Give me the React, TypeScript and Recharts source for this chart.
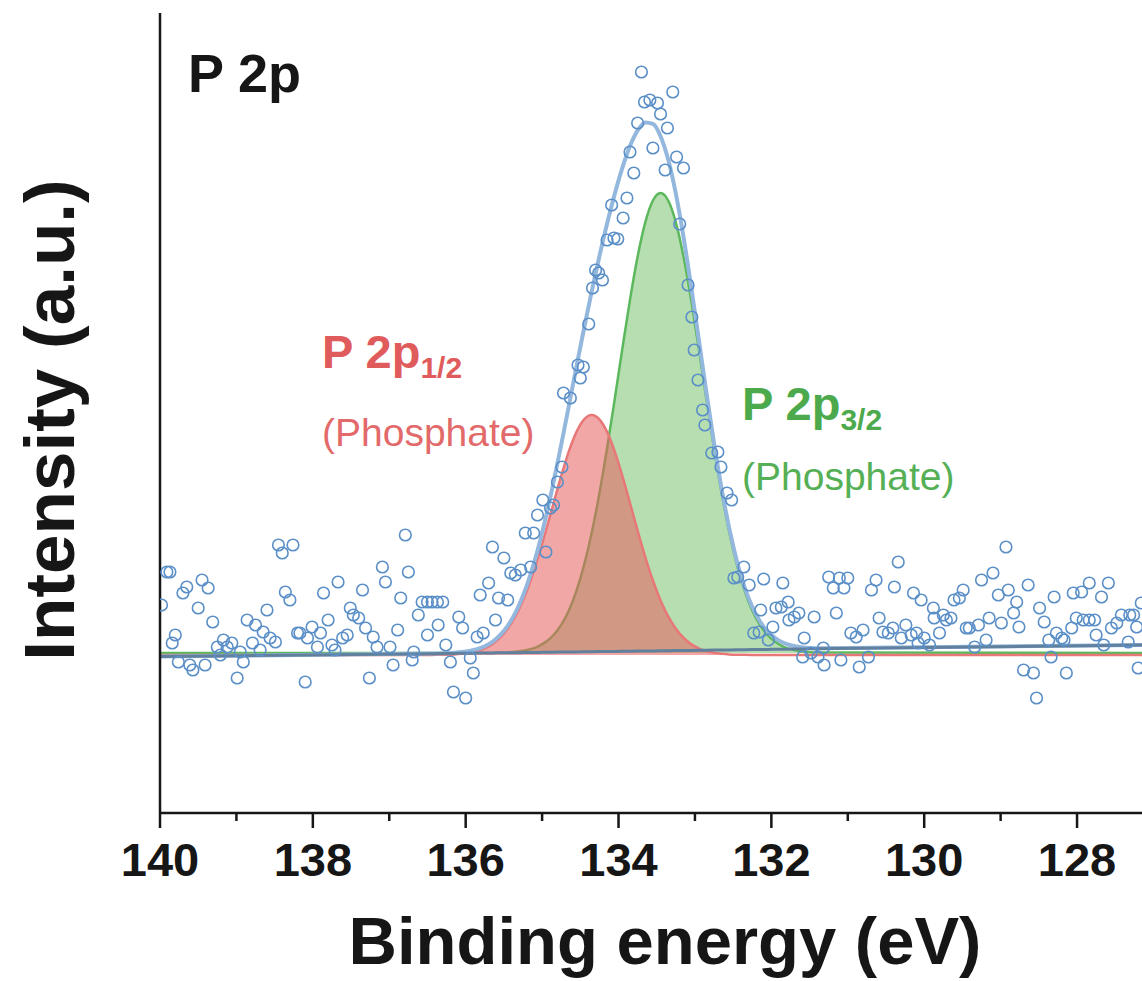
import React from 'react';
import { ComposedChart, Area, Line, Scatter, XAxis, YAxis } from 'recharts';

// peak fit at 0.1 eV steps (intensity in arbitrary units)
const fitEnergy = [
  140.5, 136.45, 136.35, 136.25, 136.15, 136.05, 135.95, 135.85, 135.75, 135.65, 135.55,
  135.45, 135.35, 135.25, 135.15, 135.05, 134.95, 134.85, 134.75, 134.65, 134.55,
  134.45, 134.35, 134.25, 134.15, 134.05, 133.95, 133.85, 133.75, 133.65, 133.55,
  133.45, 133.35, 133.25, 133.15, 133.05, 132.95, 132.85, 132.75, 132.65, 132.55,
  132.45, 132.35, 132.25, 132.15, 132.05, 131.95, 131.85, 131.75, 131.65, 131.55,
  131.45, 127.0,
];
const fitBackground = [
  156, 159.3, 159.4, 159.5, 159.6, 159.7, 159.8, 159.9, 160.0, 160.1, 160.2,
  160.3, 160.3, 160.4, 160.5, 160.6, 160.7, 160.8, 160.9, 161.0, 161.1,
  161.2, 161.3, 161.4, 161.5, 161.6, 161.7, 161.8, 161.9, 162.0, 162.1,
  162.2, 162.3, 162.4, 162.5, 162.6, 162.7, 162.8, 162.9, 163.0, 163.1,
  163.2, 163.3, 163.4, 163.5, 163.6, 163.7, 163.8, 163.9, 164.0, 164.1,
  164.2, 168,
];
const fitRed = [
  158, 158.1, 158.2, 158.3, 158.6, 159.2, 160.2, 161.9, 164.7, 168.9, 175.3,
  184.3, 196.6, 212.6, 232.5, 256.0, 282.3, 310.0, 337.1, 361.6, 381.1,
  393.7, 398.0, 393.7, 381.1, 361.6, 337.1, 310.0, 282.3, 256.0, 232.5,
  212.6, 196.6, 184.3, 175.3, 168.9, 164.7, 161.9, 160.2, 159.2, 158.6,
  158.3, 158.2, 158.1, 158, 158, 158, 158, 158, 158, 158,
  158, 158,
];
const fitGreen = [
  160, 160, 160, 160, 160, 160, 160, 160, 160.1, 160.1, 160.3,
  160.6, 161.2, 162.2, 163.9, 166.7, 171.2, 178.0, 188.2, 202.6, 222.2,
  248.1, 280.6, 319.7, 364.7, 413.7, 464.3, 513.1, 556.4, 590.6, 612.5,
  620.0, 612.5, 590.6, 556.4, 513.1, 464.3, 413.7, 364.7, 319.7, 280.6,
  248.1, 222.2, 202.6, 188.2, 178.0, 171.2, 166.7, 163.9, 162.2, 161.2,
  160.6, 160,
];
const fitEnvelope = [
  156, 159.5, 159.6, 159.8, 160.2, 160.9, 162.0, 163.8, 166.8, 171.1, 177.8,
  187.2, 200.1, 217.2, 238.9, 265.3, 296.2, 330.8, 368.2, 407.2, 446.4,
  485.0, 521.9, 556.8, 589.3, 618.9, 645.1, 666.9, 682.6, 690.6, 689.1,
  676.8, 653.4, 619.3, 576.2, 526.6, 473.7, 420.4, 369.8, 323.9, 284.3,
  251.6, 225.6, 206.1, 191.7, 181.6, 174.9, 170.5, 167.8, 166.2, 165.3,
  164.8, 168,
];

// measured spectrum (open circles)
const scanEnergy = [
  139.98, 139.91, 139.87, 139.84, 139.80, 139.76, 139.70, 139.65, 139.61, 139.57,
  139.50, 139.45, 139.41, 139.37, 139.31, 139.25, 139.21, 139.17, 139.12, 139.06,
  138.99, 138.95, 138.91, 138.86, 138.79, 138.75, 138.69, 138.65, 138.60, 138.56,
  138.49, 138.45, 138.40, 138.36, 138.30, 138.26, 138.20, 138.17, 138.10, 138.07,
  138.01, 137.94, 137.90, 137.86, 137.80, 137.75, 137.71, 137.67, 137.61, 137.55,
  137.51, 137.47, 137.40, 137.35, 137.31, 137.26, 137.21, 137.16, 137.09, 137.05,
  136.99, 136.95, 136.89, 136.85, 136.79, 136.75, 136.70, 136.68, 136.62, 136.57,
  136.50, 136.50, 136.44, 136.37, 136.36, 136.30, 136.26, 136.20, 136.16, 136.09,
  136.04, 136.00, 135.94, 135.90, 135.85, 135.81, 135.77, 135.70, 135.65, 135.61,
  135.57, 135.50, 135.45, 135.41, 135.35, 135.28, 135.22, 135.15, 135.11, 135.06,
  134.99, 134.95, 134.89, 134.85, 134.80, 134.74, 134.72, 134.63, 134.53, 134.50,
  134.46, 134.39, 134.34, 134.30, 134.26, 134.21, 134.15, 134.09, 134.06, 134.01,
  133.94, 133.89, 133.85, 133.80, 133.75, 133.70, 133.66, 133.59, 133.55, 133.49,
  133.45, 133.39, 133.36, 133.29, 133.24, 133.20, 133.15, 133.09, 133.04, 133.01,
  132.96, 132.90, 132.87, 132.78, 132.70, 132.66, 132.58, 132.52, 132.49, 132.44,
  132.36, 132.29, 132.23, 132.16, 132.14, 132.10, 132.04, 131.98, 131.94, 131.87,
  131.85, 131.78, 131.77, 131.70, 131.64, 131.59, 131.57, 131.48, 131.44, 131.39,
  131.32, 131.31, 131.25, 131.19, 131.15, 131.11, 131.09, 131.05, 131.00, 130.96,
  130.89, 130.85, 130.80, 130.73, 130.69, 130.63, 130.59, 130.54, 130.47, 130.41,
  130.39, 130.34, 130.30, 130.24, 130.17, 130.14, 130.10, 130.08, 130.04, 130.00,
  129.93, 129.88, 129.87, 129.80, 129.75, 129.71, 129.65, 129.61, 129.54, 129.49,
  129.45, 129.41, 129.34, 129.29, 129.25, 129.19, 129.15, 129.10, 129.03, 128.99,
  128.93, 128.90, 128.83, 128.79, 128.76, 128.70, 128.64, 128.57, 128.53, 128.49,
  128.43, 128.37, 128.34, 128.30, 128.27, 128.20, 128.17, 128.14, 128.07, 128.05,
  128.01, 127.94, 127.92, 127.84, 127.84, 127.77, 127.75, 127.68, 127.65, 127.59,
  127.55, 127.48, 127.42, 127.33, 127.31, 127.26, 127.22, 127.20, 127.16,
];
const scanCounts = [
  208, 241, 241, 170, 178, 151, 220, 226, 148, 143,
  205, 233, 148, 225, 191, 166, 158, 173, 166, 170,
  135, 161, 151, 193, 170, 188, 163, 181, 203, 175,
  171, 268, 260, 221, 213, 268, 180, 180, 131, 175,
  186, 166, 180, 220, 193, 168, 163, 231, 175, 178,
  205, 198, 195, 223, 185, 135, 176, 166, 246, 231,
  166, 148, 183, 215, 278, 241, 153, 161, 198, 211,
  211, 178, 211, 211, 188, 211, 168, 151, 121, 196,
  185, 115, 155, 140, 176, 218, 180, 230, 266, 193,
  215, 255, 213, 240, 238, 243, 280, 246, 280, 298,
  313, 261, 305, 308, 331, 346, 420, 415, 448, 435,
  446, 489, 525, 543, 540, 533, 573, 608, 575, 574,
  595, 615, 661, 640, 690, 741, 711, 713, 665, 710,
  699, 643, 685, 721, 656, 589, 645, 528, 496, 463,
  433, 403, 388, 360, 361, 346, 320, 313, 235, 236,
  246, 228, 180, 181, 203, 234, 173, 186, 205, 206,
  230, 211, 193, 196, 200, 156, 175, 160, 196, 156,
  165, 148, 236, 225, 200, 235, 153, 225, 235, 180,
  176, 146, 183, 156, 223, 233, 195, 181, 180, 185,
  226, 251, 175, 188, 178, 220, 180, 170, 213, 175,
  168, 205, 195, 180, 198, 193, 195, 213, 215, 223,
  185, 185, 166, 188, 233, 173, 195, 240, 218, 190,
  266, 223, 200, 211, 186, 143, 228, 140, 115, 205,
  191, 173, 156, 216, 180, 175, 173, 140, 185, 220,
  195, 221, 193, 193, 230, 193, 178, 216, 168, 230,
  185, 190, 198, 171, 198, 198, 186, 145, 210,
];

const energyTicks = [140, 139, 138, 137, 136, 135, 134, 133, 132, 131, 130, 129, 128];

const fitRows = fitEnergy.map((energy, i) => ({
  energy,
  background: fitBackground[i],
  red: fitRed[i],
  green: fitGreen[i],
  envelope: fitEnvelope[i],
}));
const scanPoints = scanEnergy.map((energy, i) => ({ energy, counts: scanCounts[i] }));

const FONT = '"Liberation Sans", Arial, Helvetica, sans-serif';
const INK = '#161616';

const EnergyTick = (props: any) => {
  const { x, y, payload } = props;
  const major = payload.value % 2 === 0;
  return (
    <g>
      <line x1={x} x2={x} y1={y} y2={y + (major ? 15 : 8)} stroke={INK} strokeWidth={2.5} />
      {major && (
        <text x={x} y={y + 63} textAnchor="middle" fontSize={47} fontWeight="bold" fontFamily={FONT} fill={INK}>
          {payload.value}
        </text>
      )}
    </g>
  );
};

const OpenCircle = (props: any) => {
  const { cx, cy } = props;
  if (cx == null || cy == null) return <g />;
  return <circle cx={cx} cy={cy} r={5.8} fill="none" stroke="#5b8fc7" strokeWidth={1.6} />;
};

export default function App() {
  return (
    <div style={{ position: 'relative', width: 1142, height: 981, overflow: 'hidden', background: '#fff' }}>
      <style>{'html,body{margin:0;padding:0;overflow:hidden;background:#fff}'}</style>
      <ComposedChart width={1142} height={981} margin={{ top: 13, right: 0, bottom: 98, left: 0 }}>
        <XAxis
          dataKey="energy"
          type="number"
          domain={[127.15, 140]}
          reversed
          allowDataOverflow
          ticks={energyTicks}
          interval={0}
          tick={<EnergyTick />}
          tickLine={false}
          tickSize={0}
          tickMargin={0}
          height={70}
          axisLine={{ stroke: INK, strokeWidth: 2.5 }}
        />
        <XAxis
          xAxisId="top"
          orientation="top"
          type="number"
          domain={[127.15, 140]}
          reversed
          allowDataOverflow
          tick={false}
          tickLine={false}
          height={0}
          axisLine={{ stroke: INK, strokeWidth: 2.5 }}
        />
        <YAxis
          type="number"
          domain={[0, 800]}
          allowDataOverflow
          width={160}
          tick={false}
          tickLine={false}
          axisLine={{ stroke: INK, strokeWidth: 2.5 }}
        />
        <Area
          data={fitRows}
          dataKey="green"
          type="monotone"
          baseValue={160}
          stroke="#5cb85c"
          strokeWidth={2.5}
          fill="#a9d8a3"
          fillOpacity={0.85}
          dot={false}
          activeDot={false}
          isAnimationActive={false}
        />
        <Area
          data={fitRows}
          dataKey="red"
          type="monotone"
          baseValue={158}
          stroke="#e87878"
          strokeWidth={2.5}
          fill="#e85f5f"
          fillOpacity={0.55}
          dot={false}
          activeDot={false}
          isAnimationActive={false}
        />
        <Line
          data={fitRows}
          dataKey="envelope"
          type="monotone"
          stroke="#93b7dd"
          strokeWidth={4}
          dot={false}
          activeDot={false}
          isAnimationActive={false}
        />
        <Line
          data={fitRows}
          dataKey="background"
          type="monotone"
          stroke="#61809e"
          strokeWidth={3}
          dot={false}
          activeDot={false}
          isAnimationActive={false}
        />
        <Scatter data={scanPoints} dataKey="counts" shape={<OpenCircle />} isAnimationActive={false} />
      </ComposedChart>

      <svg
        width={1142}
        height={981}
        style={{ position: 'absolute', left: 0, top: 0, pointerEvents: 'none' }}
        fontFamily={FONT}
      >
        <text x={188} y={92} fontSize={54} fontWeight="bold" fill={INK}>P 2p</text>

        <text x={322} y={368} fontSize={47} fontWeight="bold" fill="#e05c5c">
          P 2p<tspan fontSize={30} dy={10}>1/2</tspan>
        </text>
        <text x={322} y={446} fontSize={39} fill="#e36a6a">(Phosphate)</text>

        <text x={742} y={420} fontSize={47} fontWeight="bold" fill="#4caa4c">
          P 2p<tspan fontSize={30} dy={10}>3/2</tspan>
        </text>
        <text x={742} y={490} fontSize={39} fill="#55b055">(Phosphate)</text>

        <text x={665} y={964} textAnchor="middle" fontSize={67} fontWeight="bold" fill={INK}>
          Binding energy (eV)
        </text>
        <text
          transform="translate(74,420) rotate(-90)"
          textAnchor="middle"
          fontSize={71}
          fontWeight="bold"
          fill={INK}
        >
          Intensity (a.u.)
        </text>
      </svg>
    </div>
  );
}
